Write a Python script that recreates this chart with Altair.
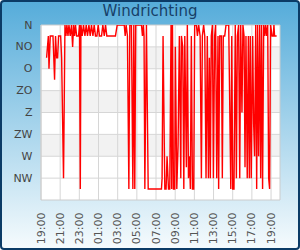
import altair as alt
import pandas as pd

# ---- data ----
title_text = "Windrichting"
start_time = "2024-01-01 19:00"
# minutes after 19:00 and wind direction (degrees, 0 = N)
minutes = [35, 46, 50, 58, 75, 85, 91, 98, 104, 110, 123, 129, 141, 150, 156, 162, 169, 175,
           183, 191, 198, 204, 210, 216, 223, 235, 241, 246, 250, 258, 266, 275, 283, 291,
           300, 308, 316, 325, 333, 341, 350, 358, 366, 379, 387, 396, 404, 412, 441, 466,
           477, 521, 527, 533, 541, 550, 556, 566, 575, 581, 587, 593, 629, 635, 641, 645,
           650, 660, 671, 754, 758, 764, 775, 783, 789, 798, 806, 814, 818, 823, 829, 837,
           841, 850, 858, 866, 875, 879, 887, 894, 900, 910, 916, 923, 929, 935, 941, 948,
           956, 962, 973, 979, 987, 996, 1004, 1010, 1018, 1025, 1033, 1041, 1048, 1054,
           1060, 1066, 1073, 1079, 1087, 1093, 1100, 1108, 1112, 1119, 1129, 1135, 1141,
           1150, 1158, 1175, 1188, 1194, 1200, 1208, 1216, 1223, 1229, 1237, 1244, 1250,
           1258, 1264, 1271, 1277, 1283, 1291, 1298, 1304, 1310, 1316, 1325, 1331, 1337,
           1344, 1350, 1356, 1362, 1369, 1375, 1381, 1387, 1394, 1400, 1406, 1412, 1419,
           1425, 1431, 1437, 1446, 1454, 1458, 1462, 1475]
direction = [67.5, 22.5, 90, 22.5, 22.5, 112.5, 22.5, 67.5, 67.5, 22.5, 22.5, 67.5, 315, 0,
             22.5, 0, 22.5, 0, 22.5, 0, 45, 0, 22.5, 0, 22.5, 22.5, 0, 337.5, 0, 22.5, 0,
             22.5, 0, 22.5, 0, 22.5, 0, 22.5, 0, 22.5, 22.5, 0, 22.5, 22.5, 0, 22.5, 0,
             22.5, 22.5, 22.5, 0, 0, 22.5, 0, 22.5, 337.5, 0, 0, 337.5, 0, 337.5, 0, 0,
             22.5, 0, 22.5, 337.5, 0, 337.5, 337.5, 315, 22.5, 337.5, 337.5, 270, 337.5,
             337.5, 0, 337.5, 0, 337.5, 337.5, 45, 337.5, 247.5, 22.5, 315, 22.5, 45, 337.5,
             22.5, 292.5, 0, 315, 270, 337.5, 22.5, 337.5, 337.5, 0, 0, 22.5, 0, 22.5, 315,
             22.5, 0, 22.5, 315, 22.5, 315, 67.5, 315, 22.5, 0, 315, 22.5, 0, 315, 22.5,
             337.5, 22.5, 22.5, 315, 22.5, 22.5, 0, 0, 337.5, 22.5, 337.5, 337.5, 0, 315,
             22.5, 0, 315, 0, 180, 0, 22.5, 292.5, 22.5, 315, 22.5, 315, 22.5, 315, 22.5,
             202.5, 270, 0, 337.5, 0, 270, 0, 315, 0, 337.5, 0, 22.5, 0, 22.5, 0, 315,
             337.5, 0, 22.5, 22.5, 0, 22.5, 22.5]
dir_labels = ["N", "NO", "O", "ZO", "Z", "ZW", "W", "NW"]
dir_values = [0, 45, 90, 135, 180, 225, 270, 315]
band_from = [45, 135, 225]
band_to = [90, 180, 270]
tick_offsets_min = [0, 120, 240, 360, 480, 600, 720, 840, 960, 1080, 1200, 1320, 1440]
x_end_offset_min = 1496

# ---- tables ----
base = pd.Timestamp(start_time)
def iso(m):
    return (base + pd.Timedelta(minutes=m)).strftime("%Y-%m-%dT%H:%M:%S")

def dt(m):
    t = base + pd.Timedelta(minutes=m)
    return alt.DateTime(year=t.year, month=t.month, date=t.day, hours=t.hour, minutes=t.minute)

df = pd.DataFrame({"t": [iso(m) for m in minutes], "dir": direction})
bands = pd.DataFrame({"y0": band_from, "y1": band_to})
hgrid = pd.DataFrame({"g": dir_values[1:]})
vgrid = pd.DataFrame({"t": [iso(m) for m in tick_offsets_min]})
one = pd.DataFrame({"a": [0]})

W, H = 239, 175
xscale = alt.Scale(domain=[dt(0), dt(x_end_offset_min)])
yscale = alt.Scale(domain=[0, 360], reverse=True, nice=False)

label_expr = "[" + ",".join("'%s'" % s for s in dir_labels) + "][round(datum.value/45)]"
xaxis = alt.Axis(values=[dt(m) for m in tick_offsets_min], format="%H:%M", labelAngle=270,
                 grid=False, ticks=False, domain=False, labelPadding=12, labelFontSize=11,
                 labelColor="#555555", labelFont="DejaVu Sans", labelFlush=False,
                 labelOverlap=False, title=None, zindex=2)
yaxis = alt.Axis(values=dir_values, labelExpr=label_expr, grid=False, ticks=False,
                 domain=False, labelPadding=9, labelFontSize=11, labelColor="#444444",
                 labelFont="DejaVu Sans", labelOverlap=False, labelFlush=False, title=None,
                 zindex=2)

grad = alt.Gradient(gradient="linear",
                    stops=[alt.GradientStop(color="#55acda", offset=0),
                           alt.GradientStop(color="#f6fbfd", offset=1)],
                    x1=0, x2=0, y1=0, y2=1)

background = alt.Chart(one).mark_rect(fill=grad, stroke="#0b3b66", strokeWidth=2,
                                       cornerRadius=3).encode(
    x=alt.value(-40), x2=alt.value(258), y=alt.value(-24), y2=alt.value(224))

plot_bg = alt.Chart(one).mark_rect(fill="white").encode(
    x=alt.value(0), x2=alt.value(W), y=alt.value(0), y2=alt.value(H))

band_layer = alt.Chart(bands).mark_rect(fill="#f2f2f2").encode(
    x=alt.value(0), x2=alt.value(W),
    y=alt.Y("y0:Q", scale=yscale, axis=yaxis), y2="y1:Q")

hgrid_layer = alt.Chart(hgrid).mark_rule(color="#d6d6d6", strokeWidth=1).encode(
    y=alt.Y("g:Q", scale=yscale, axis=yaxis))

vgrid_layer = alt.Chart(vgrid).mark_rule(color="#d6d6d6", strokeWidth=1).encode(
    x=alt.X("t:T", scale=xscale, axis=xaxis))

border = alt.Chart(one).mark_rect(fill=None, stroke="#cccccc", strokeWidth=1).encode(
    x=alt.value(0), x2=alt.value(W), y=alt.value(0), y2=alt.value(H))

line = alt.Chart(df).mark_line(color="#ff0000", strokeWidth=1.4, clip=True).encode(
    x=alt.X("t:T", scale=xscale, axis=xaxis),
    y=alt.Y("dir:Q", scale=yscale, axis=yaxis))

title = alt.Chart(one).mark_text(text=title_text, fontSize=15, font="DejaVu Sans",
                                 color="#173f68", align="center", baseline="middle").encode(
    x=alt.value(109), y=alt.value(-14))

chart = alt.layer(background, plot_bg, band_layer, hgrid_layer, vgrid_layer, border, line,
                  title).properties(
    width=W, height=H,
    autosize=alt.AutoSizeParams(type="none"),
    padding={"left": 41, "top": 25, "right": 20, "bottom": 50},
).configure_view(stroke=None)

chart.save("out.html", embed_options={"renderer": "svg", "actions": False})
